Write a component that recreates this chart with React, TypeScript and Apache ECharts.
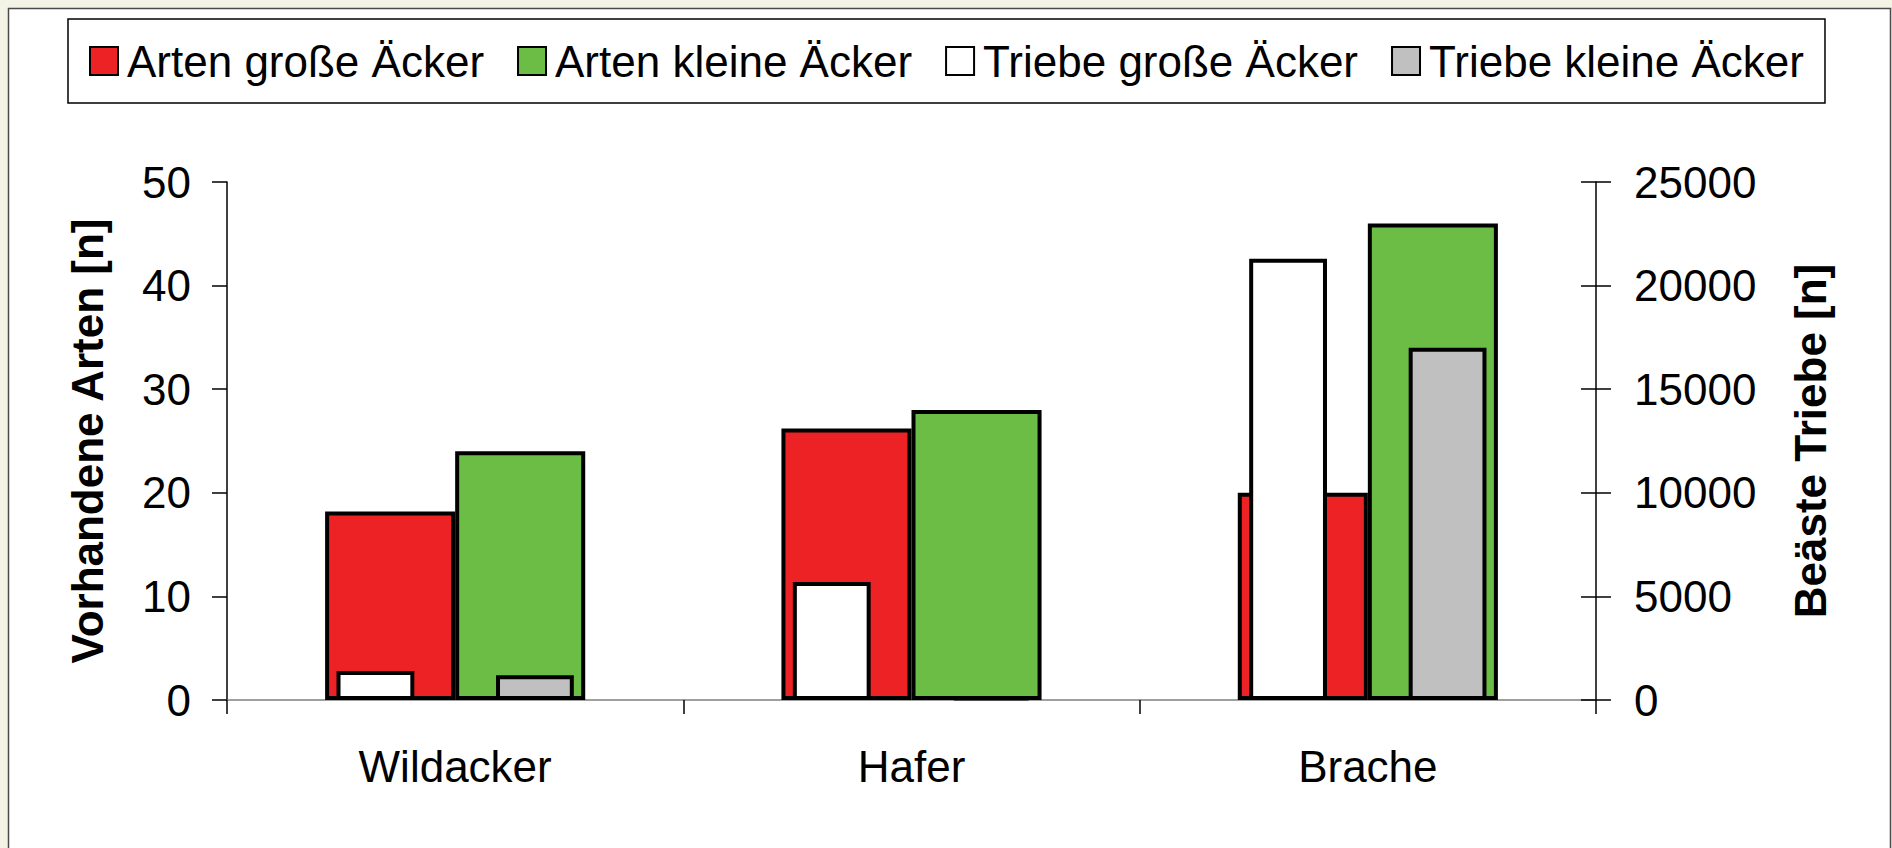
import React, { useEffect, useRef } from "react";
import * as echarts from "echarts";

const categories = ["Wildacker", "Hafer", "Brache"];
const artenGross = [18.2, 26.2, 20];
const artenKlein = [24, 28, 46];
const triebeGross = [1400, 5700, 21300];
const triebeKlein = [1200, 150, 17000];
const seriesNames = ["Arten große Äcker", "Arten kleine Äcker", "Triebe große Äcker", "Triebe kleine Äcker"];
const leftTitle = "Vorhandene Arten [n]";
const rightTitle = "Beäste Triebe [n]";

const FONT = "'Liberation Sans', Arial, Helvetica, sans-serif";
const border = { borderColor: "#000", borderWidth: 4 };

export default function App() {
  const ref = useRef<HTMLDivElement>(null);
  useEffect(() => {
    if (!ref.current) return;
    const chart = echarts.init(ref.current, null, { renderer: "svg" });
    chart.setOption({
      animation: false,
      backgroundColor: "transparent",
      textStyle: { fontFamily: FONT, color: "#000" },
      graphic: [
        {
          type: "rect",
          z: -10,
          silent: true,
          shape: { x: 8.5, y: 8.5, width: 1882, height: 860 },
          style: { fill: "#ffffff", stroke: "#4a4a4a", lineWidth: 1.5 },
        },
      ],
      legend: {
        left: 68,
        top: 19,
        padding: [20, 21, 20, 21],
        borderColor: "#000",
        borderWidth: 1.5,
        backgroundColor: "#fff",
        icon: "rect",
        itemWidth: 28,
        itemHeight: 28,
        itemGap: 33,
        textStyle: { fontSize: 44, color: "#000", fontFamily: FONT, padding: [0, 0, 0, 4] },
        data: seriesNames,
      },
      grid: { left: 227, right: 296, top: 182, bottom: 148, containLabel: false },
      xAxis: [
        {
          type: "category",
          data: categories,
          axisLine: { lineStyle: { color: "#808080", width: 1.5 } },
          axisTick: { show: true, length: 14, lineStyle: { color: "#000", width: 1.5 } },
          axisLabel: { fontSize: 44, color: "#000", margin: 44, fontFamily: FONT },
          splitLine: { show: false },
        },
        { type: "category", data: categories, show: false },
      ],
      yAxis: [
        {
          type: "value",
          position: "left",
          min: 0,
          max: 50,
          interval: 10,
          name: leftTitle,
          nameLocation: "middle",
          nameRotate: 90,
          nameGap: 118,
          nameTextStyle: { fontSize: 44, fontWeight: "bold", color: "#000", fontFamily: FONT },
          axisLine: { show: true, lineStyle: { color: "#000", width: 1.5 } },
          axisTick: { show: true, inside: false, length: 15, lineStyle: { color: "#000", width: 1.5 } },
          axisLabel: { fontSize: 44, color: "#000", margin: 36, fontFamily: FONT },
          splitLine: { show: false },
        },
        {
          type: "value",
          position: "right",
          min: 0,
          max: 25000,
          interval: 5000,
          name: rightTitle,
          nameLocation: "middle",
          nameRotate: 90,
          nameGap: 192,
          nameTextStyle: { fontSize: 44, fontWeight: "bold", color: "#000", fontFamily: FONT },
          axisLine: { show: true, lineStyle: { color: "#000", width: 1.5 } },
          axisTick: { show: true, inside: false, length: 15, lineStyle: { color: "#000", width: 1.5 } },
          axisLabel: {
            fontSize: 44,
            color: "#000",
            margin: 38,
            fontFamily: FONT,
            formatter: (v: number) => String(v),
          },
          splitLine: { show: false },
        },
        {
          type: "value",
          position: "right",
          min: 0,
          max: 25000,
          interval: 5000,
          axisLine: { show: false },
          axisTick: { show: true, inside: true, length: 15, lineStyle: { color: "#000", width: 1.5 } },
          axisLabel: { show: false },
          splitLine: { show: false },
        },
      ],
      series: [
        {
          name: seriesNames[0],
          type: "bar",
          xAxisIndex: 0,
          yAxisIndex: 0,
          data: artenGross,
          barGap: "0%",
          barCategoryGap: "43%",
          itemStyle: { color: "#ED2224", ...border },
          z: 2,
        },
        {
          name: seriesNames[1],
          type: "bar",
          xAxisIndex: 0,
          yAxisIndex: 0,
          data: artenKlein,
          barGap: "0%",
          barCategoryGap: "43%",
          itemStyle: { color: "#6CBD45", ...border },
          z: 2,
        },
        {
          name: seriesNames[2],
          type: "bar",
          xAxisIndex: 1,
          yAxisIndex: 1,
          data: triebeGross,
          barGap: "105%",
          barCategoryGap: "48%",
          itemStyle: { color: "#FFFFFF", ...border },
          z: 3,
        },
        {
          name: seriesNames[3],
          type: "bar",
          xAxisIndex: 1,
          yAxisIndex: 1,
          data: triebeKlein,
          barGap: "105%",
          barCategoryGap: "48%",
          itemStyle: { color: "#C0C0C0", ...border },
          z: 3,
        },
      ],
    });
    return () => chart.dispose();
  }, []);
  return (
    <div
      style={{
        position: "absolute",
        left: 0,
        top: 0,
        width: 1892,
        height: 848,
        background: "#f4f4e6",
        overflow: "hidden",
      }}
    >
      <div ref={ref} style={{ width: 1892, height: 848 }} />
    </div>
  );
}
